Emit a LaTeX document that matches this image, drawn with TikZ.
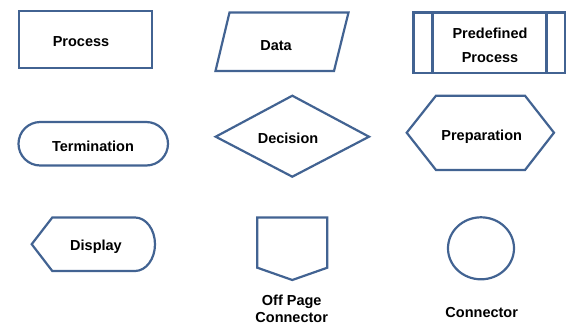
\documentclass[tikz,border=0pt]{standalone}
\usepackage{fontspec}
\setmainfont{Liberation Sans}
\begin{document}
\begin{tikzpicture}[x=1pt,y=-1pt,
  shapeline/.style={draw=flowblue,line width=2.2pt,line join=miter},
  lbl/.style={font=\bfseries\fontsize{14.5}{17}\selectfont,anchor=base,inner sep=0pt}]
\definecolor{flowblue}{RGB}{66,99,146}
\useasboundingbox (0,0) rectangle (571,335);
% Process
\draw[shapeline] (19,11) rectangle (152,68);
\node[lbl] (tprocess) at (81,46.5) {Process};
% Data
\draw[shapeline] (229.5,12.5) -- (348.5,12.5) -- (334,71) -- (215.5,71) -- cycle;
\node[lbl] (tdata) at (276,50) {Data};
% Predefined process
\draw[shapeline] (413.5,12.5) rectangle (565,73);
\draw[shapeline] (432.5,12.5) -- (432.5,73);
\draw[shapeline] (546.5,12.5) -- (546.5,73);
\node[lbl] (tpre1) at (490,38.3) {Predefined};
\node[lbl] (tpre2) at (490,62.3) {Process};
% Termination
\draw[shapeline,rounded corners=21.75pt] (18.5,122) rectangle (168,165.5);
\node[lbl] (tterm) at (93,151.7) {Termination};
% Decision
\draw[shapeline] (292.3,95.7) -- (369,136.7) -- (292.3,176.7) -- (215.7,136.7) -- cycle;
\node[lbl] (tdec) at (288,143.3) {Decision};
% Preparation
\draw[shapeline] (406.7,132.7) -- (436,95.7) -- (525,95.7) -- (554,132.7) -- (525,170) -- (436,170) -- cycle;
\node[lbl] (tprep) at (481.7,140.5) {Preparation};
% Display
\draw[shapeline] (31.7,244.2) -- (52.3,217.5) -- (135,217.5)
  arc[start angle=90,end angle=-90,x radius=20,y radius=-26.75] -- (52.3,271) -- cycle;
\node[lbl] (tdisp) at (96,250) {Display};
% Off page connector
\draw[shapeline] (257.3,217.5) -- (327.3,217.5) -- (327.3,267.7) -- (292.3,280) -- (257.3,267.7) -- cycle;
\node[lbl] (toff1) at (291.7,305.5) {Off Page};
\node[lbl] (toff2) at (291.7,322.3) {Connector};
% Connector
\draw[shapeline] (481,248.3) ellipse[x radius=33,y radius=31];
\node[lbl] (tconn) at (481.7,317.3) {Connector};
\end{tikzpicture}
\end{document}
